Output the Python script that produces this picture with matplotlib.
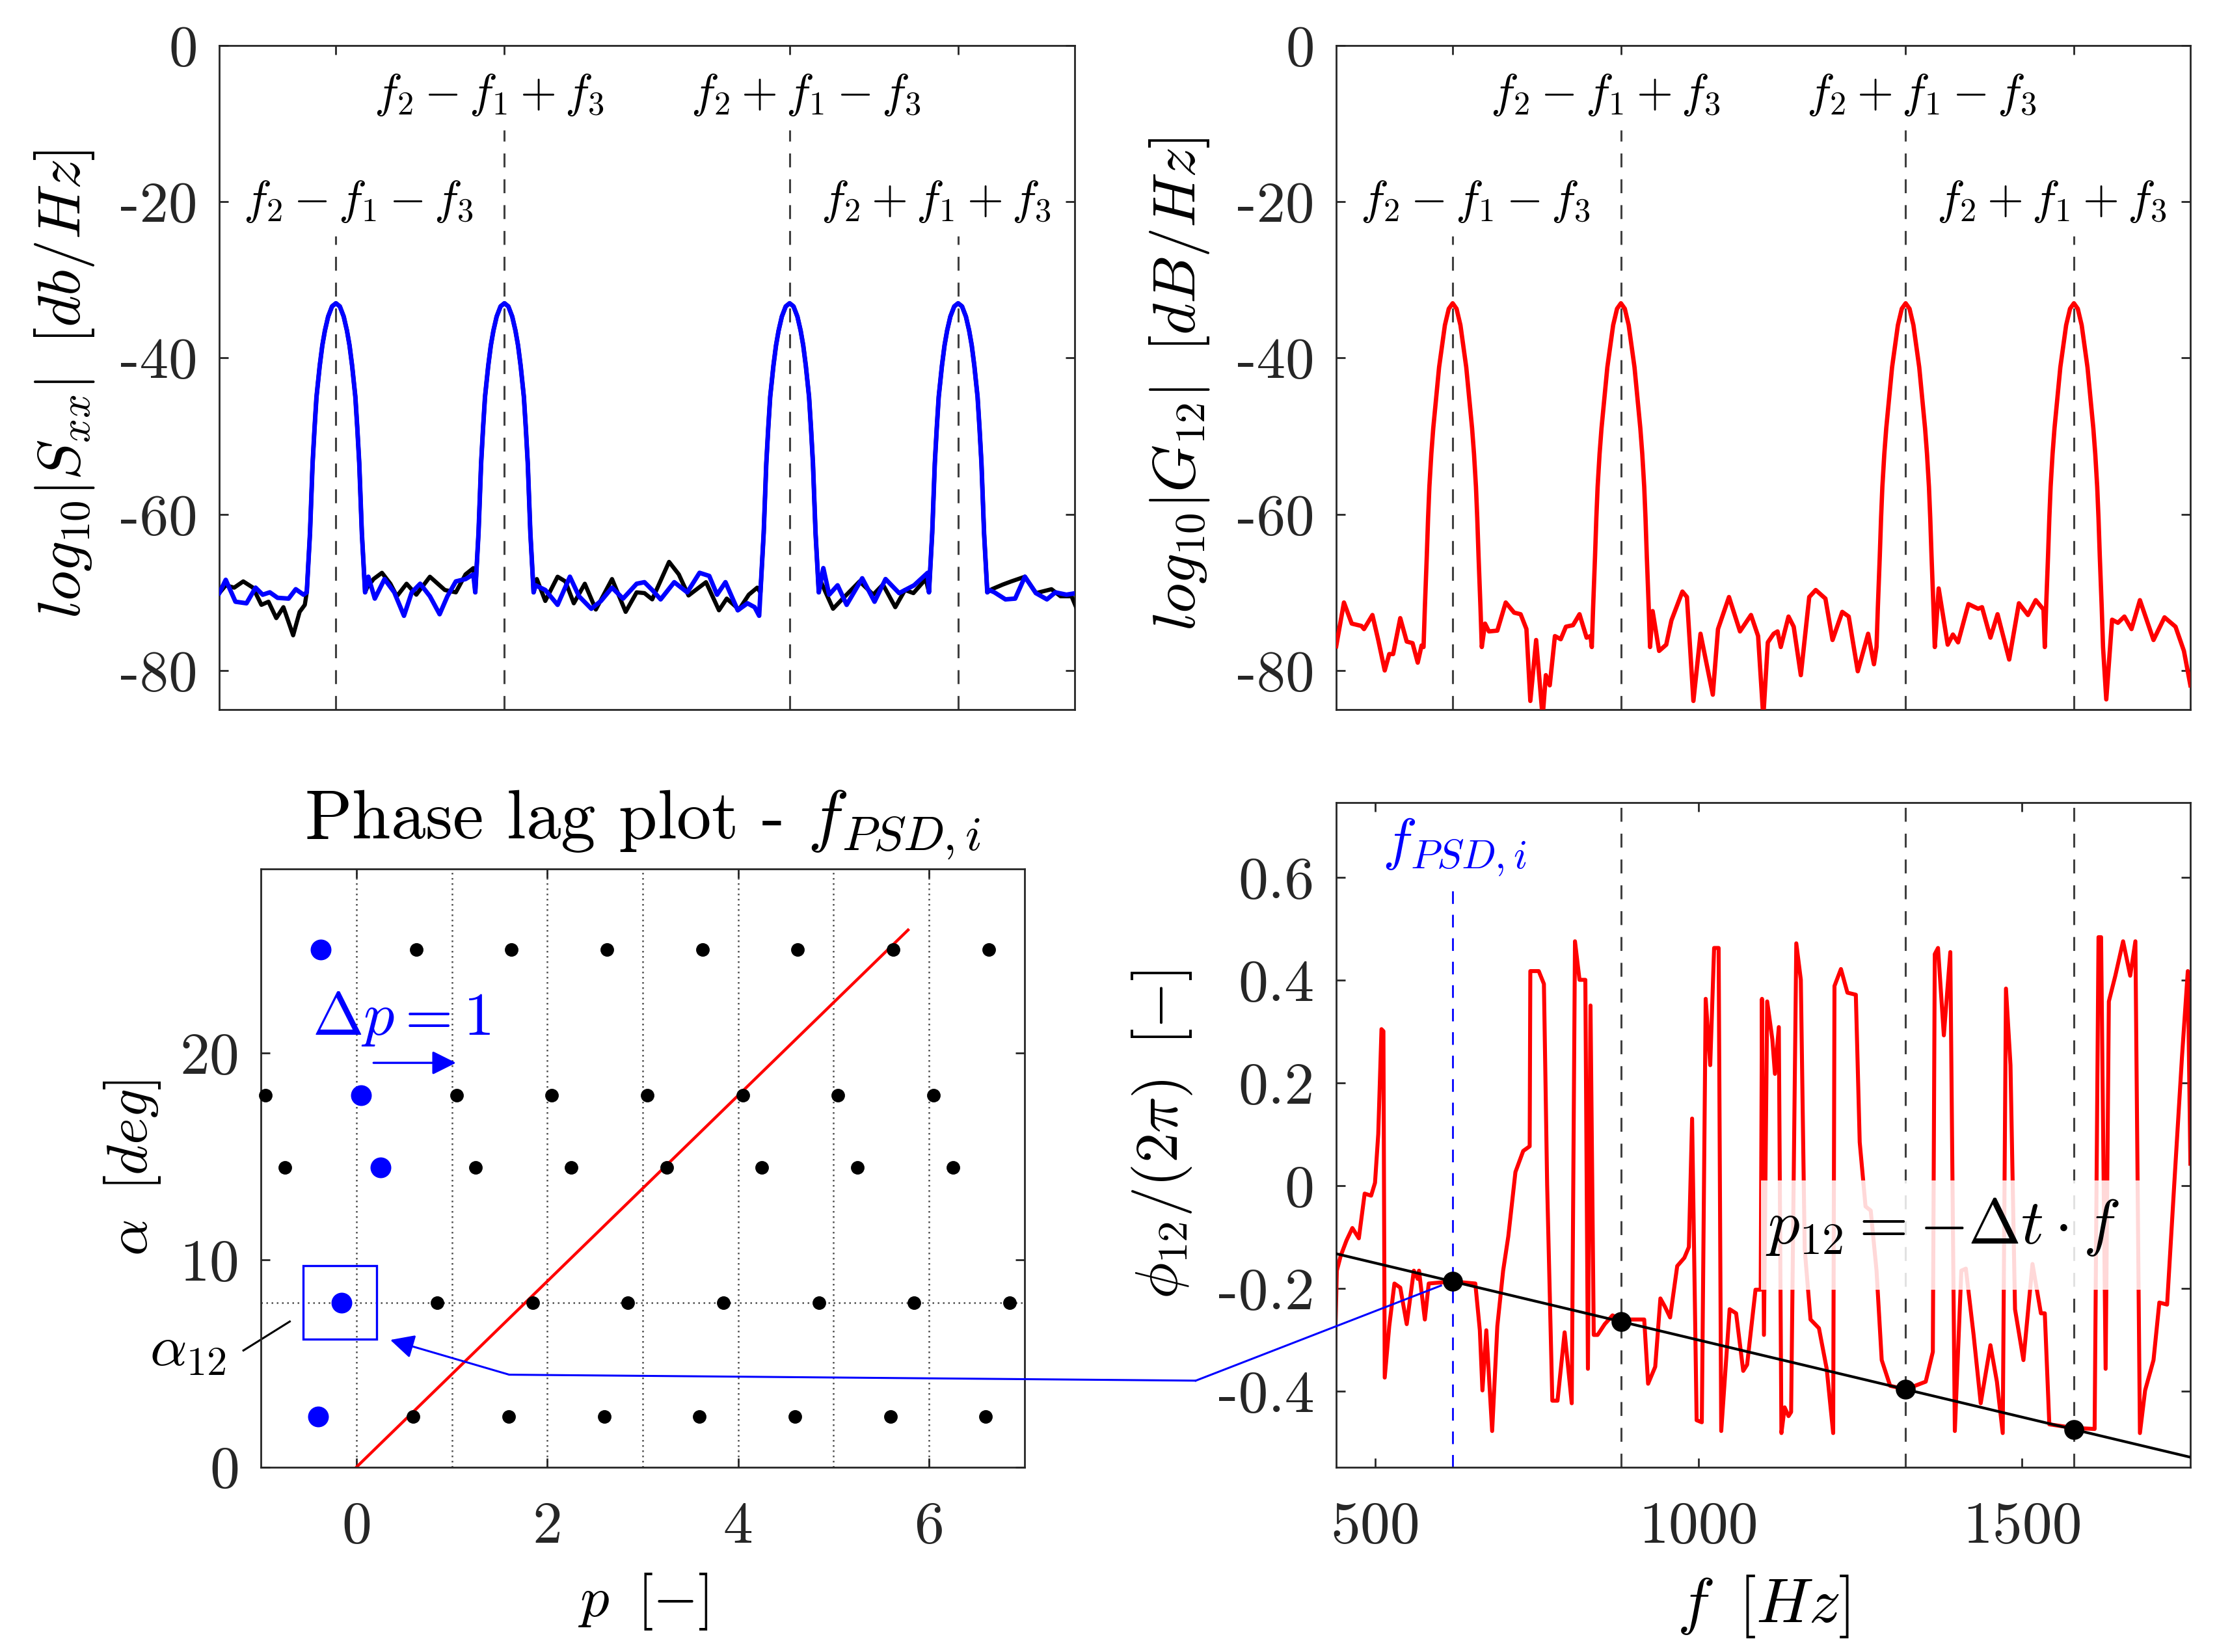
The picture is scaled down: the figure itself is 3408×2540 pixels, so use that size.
import numpy as np
import matplotlib.pyplot as plt
from matplotlib.patches import Rectangle, ConnectionPatch

plt.rcParams['font.family'] = 'cmr10'
plt.rcParams['mathtext.fontset'] = 'cm'
plt.rcParams['axes.unicode_minus'] = False
plt.rcParams['axes.formatter.use_mathtext'] = True

# combination tones [Hz] and their labels
f_lines = [620, 880, 1320, 1580]
f_names = [r'$f_2-f_1-f_3$', r'$f_2-f_1+f_3$', r'$f_2+f_1-f_3$', r'$f_2+f_1+f_3$']
label_shift = [35, -24, 25, -34]
label_level = [-20, -6.3, -6.3, -20]
line_top = [-24.4, -10.8, -10.8, -24.4]

# shape of one peak (offset from tone [Hz], level [dB])
peak_df = [-45, -43, -40, -38, -36, -33, -30, -25, -21, -17, -12, -6, 0,
           6, 12, 17, 21, 25, 30, 33, 36, 38, 40, 43, 45]
peak_db_blue = [-70, -67, -62.4, -58, -53.5, -49, -45, -41, -38.4, -36.5, -34.7, -33.4, -33,
                -33.4, -34.7, -36.5, -38.4, -41, -45, -49, -53.5, -58, -62.4, -67, -70]
peak_db_red = [-77, -72, -65.4, -60.5, -56.5, -52.3, -49, -44.7, -41.2, -38.8, -35.8, -33.7, -33,
               -33.7, -35.8, -38.8, -41.2, -44.7, -49, -52.3, -56.5, -60.5, -65.4, -72, -77]

# noise floor between the peaks, Sxx (blue)
blue_nf = [[440, 450, 465, 482, 496, 507, 518, 530, 547, 558, 570],
           [670, 680, 695, 710, 725, 737, 750, 765, 780, 792, 805, 820, 832],
           [928, 943, 962, 981, 995, 1014, 1029, 1046, 1063, 1084, 1096, 1108, 1121, 1142,
            1162, 1181, 1196, 1208, 1221, 1240, 1255, 1266, 1273],
           [1372, 1381, 1394, 1408, 1432, 1451, 1468, 1489, 1512, 1533],
           [1628, 1636, 1653, 1668, 1683, 1700, 1717, 1730, 1747, 1762]]
blue_ndb = [[-70.1, -68.4, -71.2, -71.4, -69.4, -70.3, -70.0, -70.7, -70.8, -69.6, -70.3],
            [-68, -70.8, -68.3, -70, -73, -70, -68.9, -70.5, -72.8, -70.5, -68.6, -68.3, -67.7],
            [-69.1, -69.7, -71.6, -68, -70.5, -72.1, -71.1, -69.4, -70.8, -68.9, -68.7, -69.7, -70.9, -68.7,
             -70, -67.5, -67.9, -70.3, -68.7, -72.3, -71.4, -71.9, -73],
            [-66.9, -70.3, -69.1, -71.6, -68.2, -71.2, -68.3, -70.1, -69.1, -67.5],
            [-69.7, -70, -70.9, -70.8, -68, -70.1, -70.9, -70, -70.3, -70.1]]

# noise floor, second signal (black)
black_nf = [[440, 450, 463, 477, 492, 505, 516, 528, 539, 554, 564, 572],
            [668, 678, 691, 704, 714, 729, 744, 765, 788, 805, 820, 832],
            [930, 943, 962, 974, 987, 1004, 1021, 1046, 1067, 1084, 1096, 1108, 1134, 1149,
             1164, 1191, 1211, 1223, 1242, 1257, 1270],
            [1368, 1387, 1402, 1428, 1449, 1464, 1483, 1498, 1511, 1530],
            [1632, 1649, 1662, 1683, 1700, 1724, 1738, 1755, 1762]]
black_ndb = [[-70.1, -69.1, -69.4, -68.6, -69.4, -71.6, -71.2, -73.3, -71.9, -75.5, -72.5, -71.6],
             [-69.4, -68.3, -67.5, -68.9, -70.5, -68.9, -70.3, -68, -69.7, -70, -67.7, -66.9],
             [-68.3, -71.1, -68, -68.6, -71.4, -68.9, -72.2, -68.3, -72.5, -70, -70.1, -70.9, -66.1, -67.7,
              -70.4, -68.7, -72.3, -70.8, -72.2, -70.3, -69.4],
             [-68.6, -72.1, -70.8, -68.6, -70.3, -69, -71.9, -69.7, -70.1, -68.3],
             [-69.6, -69, -68.6, -68, -70.1, -69.6, -70.5, -70.5, -71.9]]

# noise floor, cross spectrum G12 (red)
red_nf = [[440, 452, 464, 479, 483, 496, 505, 515, 522, 528, 539, 549, 558, 566, 572],
          [670, 676, 689, 702, 715, 725, 734, 740, 749, 759, 764, 770, 778, 787, 795, 806, 816, 827, 833],
          [929, 939, 950, 958, 975, 982, 992, 1003, 1011, 1022, 1030, 1047, 1064, 1081, 1092,
           1100, 1107, 1116, 1122, 1127, 1139, 1147, 1158, 1171, 1181, 1196, 1207, 1222, 1232,
           1246, 1262, 1271],
          [1371, 1385, 1393, 1401, 1417, 1432, 1438, 1451, 1462, 1480, 1495, 1509, 1521, 1533],
          [1630, 1639, 1648, 1658, 1669, 1682, 1703, 1720, 1737, 1750, 1760]]
red_ndb = [[-76.9, -71.3, -74, -74.3, -74.7, -72.9, -76.1, -80, -77.9, -77.9, -73.3, -76.3, -76.5, -79, -76.8],
           [-74, -75, -74.9, -71.3, -72.6, -72.8, -74.7, -83.9, -76.1, -86, -80.6, -81.9, -75.6, -76,
            -74.4, -74.2, -72.8, -75.8, -75.6],
           [-72.4, -77.5, -76.7, -73.6, -69.9, -70.6, -83.9, -75.3, -78.6, -83.1, -74.7, -70.6, -75, -72.9, -75.6,
            -86, -76.4, -75.3, -75, -77, -73.1, -74.4, -80.6, -70.6, -69.7, -70.8, -76.1, -72.5, -73.1,
            -80.1, -75.3, -79.2],
           [-69.5, -76.7, -75.4, -76.4, -71.5, -72.1, -71.9, -75.8, -72.8, -78.6, -71.4, -72.9, -71, -72.2],
           [-83.7, -73.5, -73.9, -73.1, -74.7, -71, -76.1, -73.2, -74.4, -77.5, -81.9]]

# phase of the cross spectrum phi12/(2 pi)
ph_f = [438, 441, 447, 456, 465, 475, 484, 494, 500, 505, 510, 513, 515, 522, 530, 539, 549, 560,
        566, 568, 577, 583, 602, 620, 655, 662, 666, 672, 681, 689, 698, 706, 717, 729, 739, 740,
        753, 761, 766, 774, 782, 793, 804, 809, 816, 825, 829, 833, 838, 844, 855, 867, 880, 916,
        922, 933, 941, 948, 956, 967, 978, 985, 990, 997, 1005, 1011, 1018, 1024, 1031, 1035, 1048,
        1058, 1069, 1075, 1088, 1096, 1098, 1101, 1106, 1114, 1118, 1124, 1128, 1133, 1139, 1143,
        1151, 1158, 1164, 1173, 1186, 1198, 1208, 1210, 1220, 1230, 1243, 1249, 1258, 1266, 1275,
        1283, 1296, 1320, 1351, 1362, 1365, 1370, 1379, 1389, 1396, 1406, 1413, 1425, 1436, 1451,
        1461, 1470, 1475, 1482, 1489, 1502, 1516, 1529, 1535, 1542, 1580, 1612, 1618, 1622, 1629,
        1634, 1644, 1656, 1667, 1675, 1682, 1690, 1703, 1712, 1724, 1735, 1747, 1756, 1760]
ph_val = [-0.323, -0.165, -0.136, -0.106, -0.082, -0.102, -0.015, -0.019, 0.006, 0.101, 0.305, 0.301,
          -0.373, -0.273, -0.19, -0.198, -0.269, -0.165, -0.181, -0.165, -0.26, -0.19, -0.188, -0.186,
          -0.19, -0.281, -0.398, -0.281, -0.477, -0.273, -0.165, -0.098, 0.027, 0.068, 0.077, 0.418,
          0.418, 0.393, 0.002, -0.418, -0.418, -0.285, -0.423, 0.476, 0.401, 0.401, -0.356, 0.351,
          -0.29, -0.29, -0.269, -0.252, -0.26, -0.26, -0.385, -0.352, -0.219, -0.235, -0.256, -0.156,
          -0.14, -0.119, 0.131, -0.456, -0.46, 0.364, 0.235, 0.463, 0.463, -0.477, -0.24, -0.248,
          -0.36, -0.348, -0.202, -0.202, 0.364, -0.29, 0.359, 0.285, 0.218, 0.309, -0.481, -0.431,
          -0.448, -0.44, 0.472, 0.401, -0.123, -0.26, -0.277, -0.356, -0.481, 0.389, 0.422, 0.376,
          0.372, 0.085, -0.04, -0.048, -0.165, -0.339, -0.389, -0.396, -0.381, -0.323, 0.451, 0.463,
          0.293, 0.455, -0.477, -0.165, -0.161, -0.29, -0.423, -0.31, -0.381, -0.481, 0.384, 0.235,
          -0.24, -0.339, -0.152, -0.248, -0.248, -0.464, -0.471, -0.473, 0.484, 0.484, -0.356, 0.359,
          0.409, 0.476, 0.409, 0.476, -0.481, -0.398, -0.339, -0.227, -0.231, 0.002, 0.251, 0.418,
          0.043]

# linear phase fit p12 = -dt*f and its values at the tones
fit_f = [440, 1760]
fit_phase = [-0.132, -0.528]
p12_points = [-0.186, -0.264, -0.396, -0.474]

# phase lag plot: rows of alpha and p of the first point in each row
row_alpha = [2.43, 7.95, 14.48, 17.96, 25.0]
row_p0 = [-0.405, -0.155, 0.25, 0.046, -0.375]
row_shift = [-1, 1, 2, 3, 4, 5, 6, 7]
p_grid = [0, 1, 2, 3, 4, 5, 6]
alpha12 = 7.95
red_p = [0, 5.78]
red_alpha = [0, 25.95]


def build(nf, ndb, peak_db):
    f, v = [], []
    for i, fc in enumerate(f_lines):
        f += nf[i]
        v += ndb[i]
        f += [fc + d for d in peak_df]
        v += peak_db
    f += nf[4]
    v += ndb[4]
    return np.array(f), np.array(v)


def style(ax, size):
    for s in ax.spines.values():
        s.set_linewidth(1.0)
        s.set_color('0.15')
    ax.tick_params(direction='in', length=5, width=1.0, color='0.15',
                   top=True, right=True, labelsize=size, labelcolor='0.15')
    ax.tick_params(axis='y', pad=12)
    ax.tick_params(axis='x', pad=19)


dash = (0, (7, 6))
dcol = '0.25'

fig = plt.figure(figsize=(17.04, 12.70), dpi=200)
ax1 = fig.add_axes([0.0989, 0.5705, 0.3859, 0.402])
ax2 = fig.add_axes([0.6027, 0.5705, 0.3853, 0.402])
ax3 = fig.add_axes([0.1178, 0.112, 0.3443, 0.362])
ax4 = fig.add_axes([0.6027, 0.112, 0.3853, 0.4022])

# top panels: spectra
fb, vb = build(blue_nf, blue_ndb, peak_db_blue)
fk, vk = build(black_nf, black_ndb, peak_db_blue)
fr, vr = build(red_nf, red_ndb, peak_db_red)

ax1.plot(fk, vk, color='k', lw=2.3, zorder=3)
ax1.plot(fb, vb, color='b', lw=2.5, zorder=4)
ax2.plot(fr, vr, color='r', lw=2.4, zorder=4)

for ax in (ax1, ax2):
    for fc, top, name, dx, lv in zip(f_lines, line_top, f_names, label_shift, label_level):
        ax.vlines(fc, -85, top, colors=dcol, linestyles=dash, lw=1.1, zorder=2)
        ax.text(fc + dx, lv, name, fontsize=26, ha='center', va='center', color='k')
    ax.set_xlim(440, 1760)
    ax.set_ylim(-85, 0)
    ax.set_xticks(f_lines)
    ax.set_xticklabels([])
    ax.set_yticks([0, -20, -40, -60, -80])
    ax.set_yticklabels(['0', '-20', '-40', '-60', '-80'])
    style(ax, 32)

ax1.set_ylabel(r'$log_{10}|S_{xx}|\;\;[db/Hz]$', fontsize=33.5)
ax2.set_ylabel(r'$log_{10}|G_{12}|\;\;[dB/Hz]$', fontsize=33.5)
ax1.yaxis.set_label_coords(-0.144, 0.49)
ax2.yaxis.set_label_coords(-0.146, 0.49)

# bottom left: phase lag plot
ax3.vlines(p_grid, 0, 28.9, colors='0.3', linestyles=(0, (1, 2.2)), lw=0.9, zorder=1)
ax3.axhline(alpha12, color='0.3', ls=(0, (1, 2.2)), lw=0.9, zorder=1)
ax3.plot(red_p, red_alpha, color='r', lw=1.6, zorder=2)
for a, p0 in zip(row_alpha, row_p0):
    ps = [p0 + k for k in row_shift if -1 < p0 + k < 7]
    ax3.plot(ps, [a] * len(ps), 'o', color='k', ms=6.5, clip_on=False, zorder=3)
ax3.plot(row_p0, row_alpha, 'o', color='b', ms=10.5, zorder=4, clip_on=False)
ax3.add_patch(Rectangle((-0.56, 6.19), 0.768, 3.54, fill=False, edgecolor='b', lw=1.2, zorder=4))
ax3.text(0.47, 21.67, r'$\Delta p=1$', color='b', fontsize=34, ha='center', va='center')
ax3.annotate('', xy=(1.08, 19.53), xytext=(0.14, 19.53),
             arrowprops=dict(arrowstyle='-|>', color='b', lw=1.2, mutation_scale=28))
ax3.text(-1.77, 5.6, r'$\alpha_{12}$', fontsize=32, ha='center', va='center', clip_on=False)
ax3.plot([-1.186, -0.70], [5.63, 7.03], color='k', lw=1.1, clip_on=False)
ax3.set_xlim(-1, 7)
ax3.set_ylim(0, 28.9)
ax3.set_xticks([0, 2, 4, 6])
ax3.set_xticklabels(['0', '2', '4', '6'])
ax3.set_yticks([0, 10, 20])
ax3.set_yticklabels(['0', '10', '20'])
style(ax3, 33)
ax3.set_title(r'Phase lag plot - $f_{PSD,i}$', fontsize=38.5, pad=17)
ax3.set_xlabel(r'$p\;\;[-]$', fontsize=32)
ax3.set_ylabel(r'$\alpha\;\;[deg]$', fontsize=32)
ax3.xaxis.set_label_coords(0.5, -0.175)
ax3.yaxis.set_label_coords(-0.129, 0.5)

# bottom right: phase of cross spectrum
ax4.plot(ph_f, ph_val, color='r', lw=2.2, zorder=2)
ax4.vlines(f_lines[1:], -0.547, 0.746, colors=dcol, linestyles=dash, lw=1.1, zorder=1.5)
ax4.vlines(f_lines[0], -0.547, 0.584, colors='b', linestyles=dash, lw=1.0, zorder=1.5)
ax4.add_patch(Rectangle((1096, -0.202), 593, 0.213, facecolor='white', alpha=0.85,
                        edgecolor='none', zorder=3))
ax4.plot(fit_f, fit_phase, color='k', lw=1.5, zorder=4)
ax4.plot(f_lines, p12_points, 'o', color='k', ms=10, zorder=5)
ax4.text(1377, -0.08, r'$p_{12}=-\Delta t\cdot f$', fontsize=35, ha='center', va='center', zorder=6)
ax4.text(623, 0.659, r'$f_{PSD,i}$', fontsize=32, color='b', ha='center', va='center')
ax4.set_xlim(440, 1760)
ax4.set_ylim(-0.547, 0.746)
ax4.set_xticks([500, 1000, 1500])
ax4.set_xticklabels(['500', '1000', '1500'])
ax4.set_yticks([-0.4, -0.2, 0, 0.2, 0.4, 0.6])
ax4.set_yticklabels(['-0.4', '-0.2', '0', '0.2', '0.4', '0.6'])
style(ax4, 33)
ax4.set_xlabel(r'$f\;\;[Hz]$', fontsize=35)
ax4.set_ylabel(r'$\phi_{12}/(2\pi)\;\;[-]$', fontsize=33.5)
ax4.xaxis.set_label_coords(0.5, -0.16)
ax4.yaxis.set_label_coords(-0.166, 0.5)

# blue connector from f_PSD,i to the phase lag point
ax4.plot([602, 223], [-0.194, -0.379], color='b', lw=1.1, clip_on=False, zorder=6)
con = ConnectionPatch(xyA=(223, -0.379), coordsA=ax4.transData,
                      xyB=(1.60, 4.46), coordsB=ax3.transData, color='b', lw=1.1)
fig.add_artist(con)
ax3.annotate('', xy=(0.353, 6.14), xytext=(1.60, 4.46),
             arrowprops=dict(arrowstyle='-|>', color='b', lw=1.1, mutation_scale=28,
                             shrinkA=0, shrinkB=0))

fig.savefig('out.png', dpi=200)
